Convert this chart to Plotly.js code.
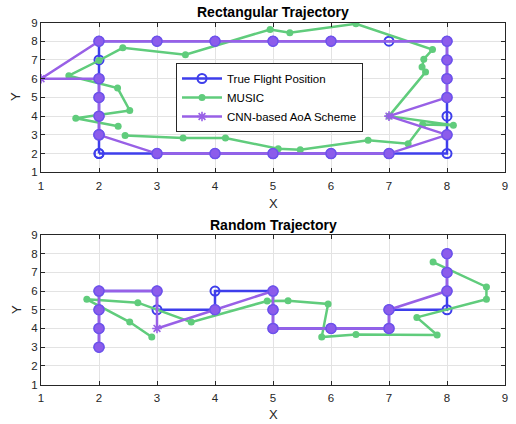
<!DOCTYPE html>
<html><head><meta charset="utf-8">
<script src="https://cdn.plot.ly/plotly-3.0.1.min.js"></script>
<style>html,body{margin:0;padding:0;background:#fff}#chart{width:516px;height:424px}</style>
</head><body><div id="chart"></div>
<script>
// ---------- Rectangular trajectory ----------
const rectTrueX  = [2,3,4,5,6,7,8,8,8,8,8,8,8,7,6,5,4,3,2,2,2,2,2,2,2];
const rectTrueY  = [2,2,2,2,2,2,2,3,4,5,6,7,8,8,8,8,8,8,8,7,6,5,4,3,2];
const rectMusicX = [2.45,3.45,4.18,5.09,5.47,6.64,7.33,7.58,8.11,7.00,7.63,7.57,7.60,7.75,6.43,5.29,4.95,3.49,2.41,2.00,1.48,2.32,2.53,1.60,2.33];
const rectMusicY = [2.97,2.83,2.83,2.26,2.21,2.71,2.53,3.55,3.51,4.00,6.35,6.62,7.04,7.56,8.93,8.45,8.63,7.28,7.65,6.97,6.16,5.50,4.30,3.89,3.46];
const rectCnnX   = [2,3,4,5,6,7,8,7,8,8,8,8,6,5,4,3,2,1,2,2,2,2];
const rectCnnY   = [3,2,2,2,2,2,3,4,5,6,7,8,8,8,8,8,8,6,6,5,4,3];
// ---------- Random trajectory ----------
const randTrueX  = [2,2,2,2,3,3,4,4,5,5,5,6,7,7,8,8,8,8];
const randTrueY  = [3,4,5,6,6,5,5,6,6,5,4,4,4,5,5,6,7,8];
const randMusicX = [2.91,2.53,1.79,2.67,3.59,4.90,5.26,5.95,5.84,6.43,7.83,7.48,8.68,8.68,7.76];
const randMusicY = [3.54,4.34,5.56,5.38,4.34,5.47,5.48,5.31,3.54,3.67,3.65,4.59,5.56,6.22,7.55];
const randCnnX   = [2,2,2,2,3,3,4,5,5,5,6,7,7,8,8,8];
const randCnnY   = [3,4,5,6,6,4,5,6,5,4,4,4,5,6,7,8];

const seriesNames = ['True Flight Position','MUSIC','CNN-based AoA Scheme'];
const tickVals = [1,2,3,4,5,6,7,8,9];

const BLUE = 'rgb(62,62,235)', GREEN = 'rgb(96,204,124)', PURPLE = 'rgb(152,96,230)';
const FONT = 'Liberation Sans, Arial, sans-serif';

function matched(cx, cy, tx, ty) {
  const mx = [], my = [];
  for (let i = 0; i < cx.length; i++) {
    for (let j = 0; j < tx.length; j++) {
      if (cx[i] === tx[j] && cy[i] === ty[j]) { mx.push(cx[i]); my.push(cy[i]); break; }
    }
  }
  return [mx, my];
}

function traces(tx, ty, mx, my, cx, cy, xa, ya, legend) {
  const [fx, fy] = matched(cx, cy, tx, ty);
  return [
    {x: tx, y: ty, xaxis: xa, yaxis: ya, name: seriesNames[0], mode: 'lines+markers', showlegend: legend,
     line: {color: BLUE, width: 2.5}, marker: {symbol: 'circle-open', size: 9, color: BLUE, line: {width: 2, color: BLUE}}},
    {x: mx, y: my, xaxis: xa, yaxis: ya, name: seriesNames[1], mode: 'lines+markers', showlegend: legend,
     line: {color: GREEN, width: 2.5}, marker: {symbol: 'circle', size: 7, color: GREEN}},
    {x: cx, y: cy, xaxis: xa, yaxis: ya, name: seriesNames[2], mode: 'lines+markers', showlegend: legend,
     line: {color: PURPLE, width: 2.5}, marker: {symbol: 'asterisk-open', size: 8, color: PURPLE, line: {width: 1.6, color: PURPLE}}},
    {x: fx, y: fy, xaxis: xa, yaxis: ya, mode: 'markers', showlegend: false, hoverinfo: 'skip',
     marker: {symbol: 'circle', size: 10, color: 'rgb(140,92,235)', line: {width: 1.5, color: 'rgb(110,82,235)'}}}
  ];
}

const data = [].concat(
  traces(rectTrueX, rectTrueY, rectMusicX, rectMusicY, rectCnnX, rectCnnY, 'x', 'y', true),
  traces(randTrueX, randTrueY, randMusicX, randMusicY, randCnnX, randCnnY, 'x2', 'y2', false)
);

function axis(domain, anchor, isX) {
  const a = {domain: domain, anchor: anchor, range: [1, 9], tickvals: tickVals, ticktext: tickVals.map(String),
    showgrid: true, gridcolor: '#e3e3e3', gridwidth: 1, zeroline: false,
    showline: true, linecolor: '#262626', linewidth: 1, mirror: 'ticks',
    ticks: 'inside', ticklen: 4, tickcolor: '#262626', tickwidth: 1,
    tickfont: {family: FONT, size: 11.5, color: '#262626'}, fixedrange: true};
  if (isX) a.ticklabelstandoff = 3;
  return a;
}

const xd = [41/516, 505/516];
const y1 = [(424-172.3)/424, (424-22.5)/424];
const y2 = [(424-384.5)/424, (424-235)/424];

function txt(text, x, y, size, bold, angle) {
  return {text: bold ? '<b>' + text + '</b>' : text, x: x/516, y: 1 - y/424, xref: 'paper', yref: 'paper',
    xanchor: 'center', yanchor: 'middle', showarrow: false, textangle: angle || 0,
    font: {family: FONT, size: size, color: bold ? '#000' : '#262626'}};
}

const layout = {
  width: 516, height: 424, margin: {l: 0, r: 0, t: 0, b: 0},
  paper_bgcolor: '#fff', plot_bgcolor: '#fff', showlegend: true,
  xaxis: axis(xd, 'y', true), yaxis: axis(y1, 'x', false),
  xaxis2: axis(xd, 'y2', true), yaxis2: axis(y2, 'x2', false),
  legend: {x: 176/516, y: 1 - 63/424, xanchor: 'left', yanchor: 'top', bgcolor: '#fff',
    bordercolor: '#262626', borderwidth: 1, itemwidth: 40, tracegroupgap: 0,
    font: {family: FONT, size: 11.5, color: '#000'}},
  annotations: [
    txt('Rectangular Trajectory', 273, 12, 14, true),
    txt('X', 273, 203, 13, false),
    txt('Y', 16, 97, 13, false, -90),
    txt('Random Trajectory', 273, 225, 14, true),
    txt('X', 273, 414, 13, false),
    txt('Y', 16, 310, 13, false, -90)
  ]
};

Plotly.newPlot('chart', data, layout, {staticPlot: true, displayModeBar: false});
</script></body></html>
